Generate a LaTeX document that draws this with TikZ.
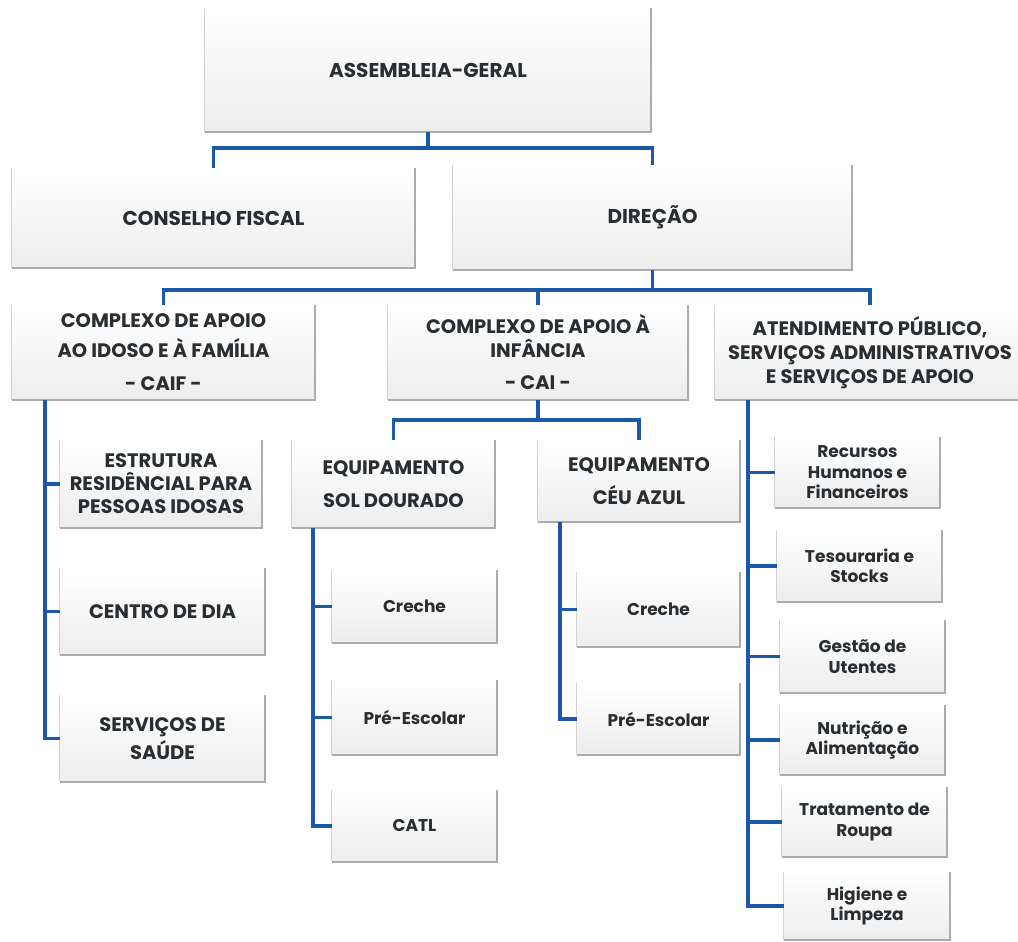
\documentclass[tikz,border=0pt]{standalone}
\usepackage{fontspec}
\setmainfont{Poppins}
\definecolor{linkblue}{RGB}{28,88,168}
\definecolor{txt}{RGB}{40,46,50}
\tikzset{
  orgbox/.style={inner sep=0pt, align=center, text=txt, top color=white, middle color=white, bottom color=gray!14, draw=none},
  fa/.style={font=\bfseries\fontsize{20}{24}\selectfont},
  fb/.style={font=\bfseries\fontsize{19.5}{24}\selectfont},
  fc/.style={font=\bfseries\fontsize{19.5}{23}\selectfont},
  fd/.style={font=\bfseries\fontsize{17}{20.5}\selectfont},
  link/.style={draw=linkblue, line width=3.5pt},
  shadowedge/.style={draw=gray!65, line width=2.5pt},
  leftedge/.style={draw=gray!35, line width=1pt},
}
\newcommand\obox[7]{%
  \node[orgbox, #6, minimum width=#4pt, minimum height=#5pt] (#1) at (#2,#3) {#7};
  \draw[shadowedge] (#1.north east) -- (#1.south east) -- (#1.south west);
  \draw[leftedge] (#1.south west) -- (#1.north west);
}
\begin{document}
\begin{tikzpicture}[x=1pt,y=-1pt]
\useasboundingbox[fill=white] (0,0) rectangle (1018,942);
% level 1-2
\obox{ag}{428}{70}{446}{124}{fa}{ASSEMBLEIA-GERAL}
\obox{cf}{213.5}{218}{403}{100}{fa}{CONSELHO FISCAL}
\obox{dir}{652.5}{217.5}{399}{105}{fa}{DIREÇÃO}
% level 3
\obox{caif}{163.5}{352.5}{303}{95}{fb}{COMPLEXO DE APOIO\\[6pt] AO IDOSO E À FAMÍLIA\\[9pt] - CAIF -}
\obox{cai}{538}{352.5}{300}{95}{fb}{COMPLEXO DE APOIO À\\ INFÂNCIA\\[8pt] - CAI -}
\obox{atd}{870}{352.5}{310}{95}{fb}{ATENDIMENTO PÚBLICO,\\ SERVIÇOS ADMINISTRATIVOS\\ E SERVIÇOS DE APOIO}
% CAIF children
\obox{estr}{161}{484}{202}{88}{fc}{ESTRUTURA\\ RESIDÊNCIAL PARA\\ PESSOAS IDOSAS}
\obox{centro}{162.5}{611.5}{205}{87}{fc}{CENTRO DE DIA}
\obox{saude}{162.5}{738.5}{205}{87}{fc}{SERVIÇOS DE\\[2pt] SAÚDE}
% CAI children
\obox{esd}{393.5}{484}{203}{88}{fc}{EQUIPAMENTO\\[10pt] SOL DOURADO}
\obox{eca}{639}{481}{202}{82}{fc}{EQUIPAMENTO\\[10pt] CÉU AZUL}
\obox{cra}{414.5}{606.5}{165}{73}{fd}{Creche}
\obox{pea}{414.5}{717.5}{165}{75}{fd}{Pré-Escolar}
\obox{catl}{414.5}{826}{165}{72}{fd}{CATL}
\obox{crb}{658.5}{609.5}{163}{75}{fd}{Creche}
\obox{peb}{658.5}{719}{163}{72}{fd}{Pré-Escolar}
% Atendimento children
\obox{rh}{857.5}{472.5}{165}{71}{fd}{Recursos\\ Humanos e\\ Financeiros}
\obox{tes}{859.5}{566}{165}{72}{fd}{Tesouraria e\\ Stocks}
\obox{ges}{862.5}{656.5}{165}{73}{fd}{Gestão de\\ Utentes}
\obox{nut}{862.5}{740}{165}{70}{fd}{Nutrição e\\ Alimentação}
\obox{tra}{864.5}{822}{165}{70}{fd}{Tratamento de\\ Roupa}
\obox{hig}{867}{906}{166}{68}{fd}{Higiene e\\ Limpeza}
% connectors
\draw[link] (ag.south) -- ++(0,16) coordinate (j1);
\draw[link] (cf.north) |- (j1) -| (dir.north);
\draw[link] (dir.south) -- ++(0,20) coordinate (j2);
\draw[link] (caif.north) |- (j2) -| (atd.north);
\draw[link] (cai.north) -- (cai.north |- j2);
\draw[link] (cai.south) -- ++(0,20) coordinate (j3);
\draw[link] (esd.north) |- (j3) -| (eca.north);
% vertical spines
\coordinate (v1) at ([xshift=33pt]caif.south west);
\draw[link] (v1) |- (saude.west);
\draw[link] (v1 |- estr.west) -- (estr.west);
\draw[link] (v1 |- centro.west) -- (centro.west);
\coordinate (v2) at ([xshift=21pt]esd.south west);
\draw[link] (v2) |- (catl.west);
\draw[link] (v2 |- cra.west) -- (cra.west);
\draw[link] (v2 |- pea.west) -- (pea.west);
\coordinate (v3) at ([xshift=22pt]eca.south west);
\draw[link] (v3) |- (peb.west);
\draw[link] (v3 |- crb.west) -- (crb.west);
\coordinate (v4) at ([xshift=33pt]atd.south west);
\draw[link] (v4) |- (hig.west);
\foreach \n in {rh,tes,ges,nut,tra}{\draw[link] (v4 |- \n.west) -- (\n.west);}
\end{tikzpicture}
\end{document}
